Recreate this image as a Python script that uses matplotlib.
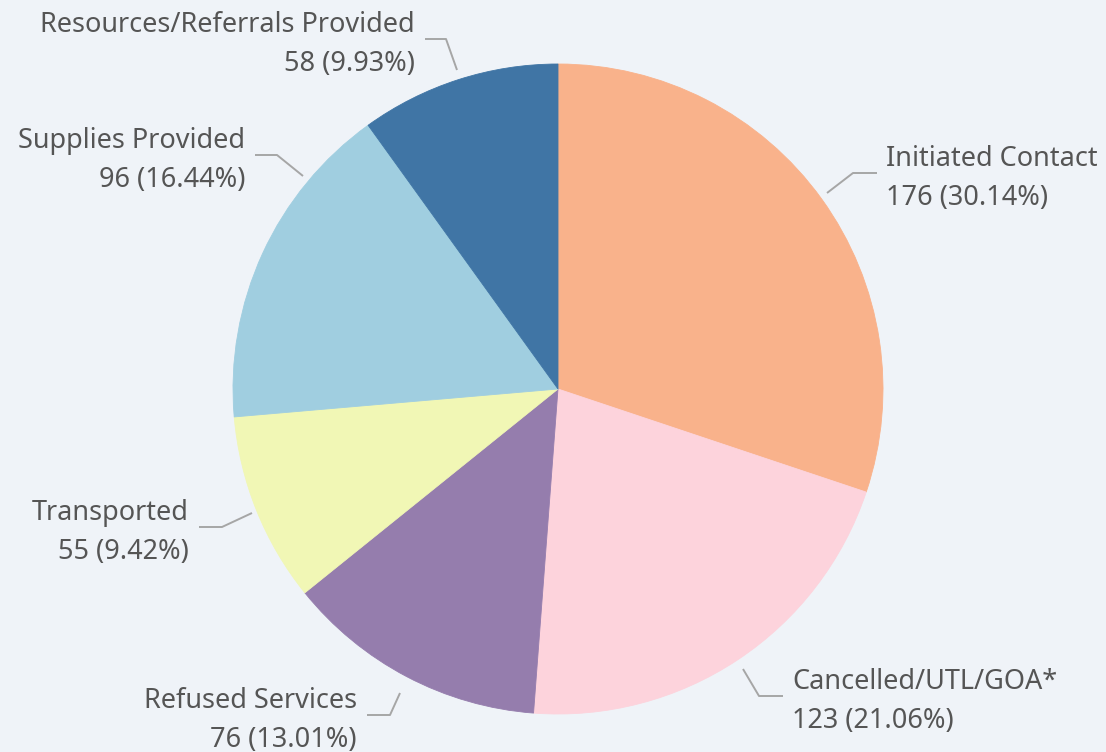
import matplotlib
matplotlib.use("Agg")
import matplotlib.pyplot as plt

# ---- data ----
categories = ["Initiated Contact", "Cancelled/UTL/GOA*", "Refused Services",
              "Transported", "Supplies Provided", "Resources/Referrals Provided"]
values = [176, 123, 76, 55, 96, 58]
colors = ["#F9B28B", "#FDD3DC", "#957DAD", "#F1F7B5", "#A0CEE0", "#4075A5"]

# ---- layout (pixel coordinates, y measured from top) ----
W, H = 1106, 752
cx, cy, R = 558, 389, 325
# leader: (anchor on pie), (elbow), (end of horizontal), text side
leaders = [
    ((827, 193), (853, 173), (877, 173), "left"),
    ((743, 669), (759, 696), (783, 696), "left"),
    ((400, 693), (390, 715), (367, 715), "right"),
    ((252, 513), (222, 527), (199, 527), "right"),
    ((303, 176), (277, 155), (255, 155), "right"),
    ((457, 70), (446, 39), (425, 39), "right"),
]

BG = "#EFF3F8"
TXT = "#555555"
LINE = "#A6A6A6"

plt.rcParams['font.family'] = ['Noto Sans', 'DejaVu Sans']

fig = plt.figure(figsize=(W / 100, H / 100), dpi=100, facecolor=BG)
ax = fig.add_axes([0, 0, 1, 1])
ax.set_facecolor(BG)

def Y(y):
    return H - y

wedges, _ = ax.pie(values, colors=colors, startangle=90, counterclock=False,
                   center=(cx, Y(cy)), radius=R, frame=True,
                   wedgeprops=dict(linewidth=0.6, antialiased=True))
for w, c in zip(wedges, colors):
    w.set_edgecolor(c)
ax.set_xlim(0, W)
ax.set_ylim(0, H)
ax.set_aspect('equal')
ax.axis('off')

total = sum(values)
fs = 19.5
for cat, v, (a, e, h, side) in zip(categories, values, leaders):
    ax.plot([a[0], e[0], h[0]], [Y(a[1]), Y(e[1]), Y(h[1])], color=LINE, lw=1.4,
            solid_capstyle='butt', zorder=3)
    pct = 100 * v / total
    if side == "left":
        tx, ha = h[0] + 9, 'left'
    else:
        tx, ha = h[0] - 10, 'right'
    ax.text(tx, Y(h[1] - 14), cat, ha=ha, va='center', fontsize=fs, color=TXT)
    ax.text(tx, Y(h[1] + 25), f"{v} ({pct:.2f}%)", ha=ha, va='center', fontsize=fs, color=TXT)

fig.savefig("out.png", dpi=100, facecolor=BG)
